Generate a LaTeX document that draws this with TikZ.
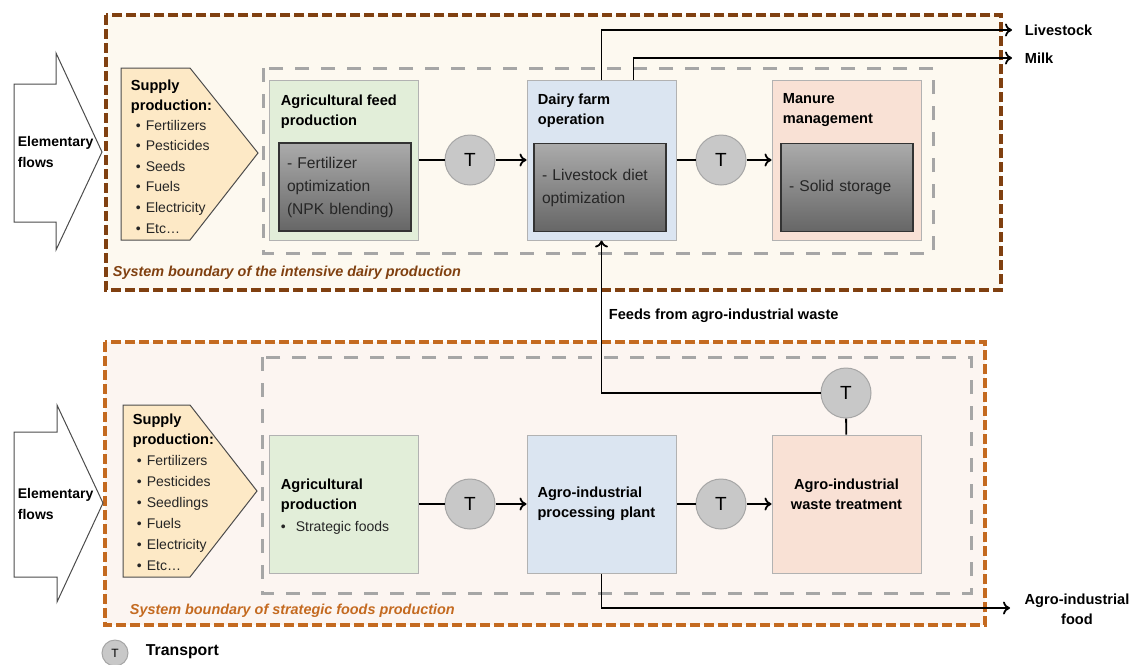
\documentclass[tikz,border=0pt]{standalone}
\usepackage{fontspec}
\setmainfont{Liberation Sans}
\usetikzlibrary{arrows.meta}
\definecolor{dairybrown}{RGB}{128,64,16}
\definecolor{dairycream}{RGB}{253,249,240}
\definecolor{foodorange}{RGB}{196,106,32}
\definecolor{foodpink}{RGB}{252,245,241}
\definecolor{lcagray}{RGB}{166,166,166}
\definecolor{supplyfill}{RGB}{253,233,198}
\definecolor{feedgreen}{RGB}{226,238,217}
\definecolor{dairyblue}{RGB}{219,229,241}
\definecolor{manurepink}{RGB}{249,225,213}
\definecolor{tgray}{RGB}{200,200,200}
\begin{document}
\begin{tikzpicture}[x=0.5pt,y=-0.5pt, line width=0.9pt, >={To[length=3.5pt,width=6.5pt]},
        every node/.style={font=\fontsize{7.3}{10}\selectfont\bfseries, inner sep=0pt},
        boundary/.style={dash pattern=on 5pt off 2pt, line width=1.6pt},
        lcabox/.style={draw=lcagray, dash pattern=on 7pt off 6pt, line width=1.5pt},
        procbox/.style={draw=gray!60, line width=0.5pt, minimum width=74.5pt, minimum height=80pt},
        optbox/.style={draw=black!80, line width=0.6pt, top color=black!33, bottom color=black!60, minimum width=66pt, minimum height=44pt,
            text width=58pt, inner xsep=4pt, align=left, text=black!85, font=\fontsize{7.8}{11.5}\selectfont},
        tcirc/.style={circle, fill=tgray, draw=gray!70, line width=0.5pt, minimum size=25pt, font=\fontsize{9.5}{11}\selectfont},
        title/.style={anchor=north west, align=left},
        item/.style={anchor=base west, text=black!85, font=\fontsize{7}{10}\selectfont},
        inflow/.style={draw=black!70, line width=0.5pt, fill=white},
        supply/.style={draw=black!70, line width=0.5pt, fill=supplyfill},
        flow/.style={->, black}]
    \useasboundingbox (0,0) rectangle (1138,664);
    % system boundaries
    \draw[boundary, draw=dairybrown, fill=dairycream] (106,15) rectangle (1001,290);
    \draw[boundary, draw=foodorange, fill=foodpink] (105,342) rectangle (985,625);
    \draw[lcabox] (263,68) rectangle (933,253);
    \draw[lcabox] (262,357) rectangle (971,593);
    \node[anchor=west, font=\fontsize{7.2}{9}\selectfont\bfseries\itshape, text=dairybrown] (dairybound) at (112,273) {System boundary of the intensive dairy production};
    \node[anchor=west, font=\fontsize{7.2}{9}\selectfont\bfseries\itshape, text=foodorange] (foodbound) at (129,611) {System boundary of strategic foods production};
    % elementary flows and supply production
    \draw[inflow] (14,84) -- (56,84) -- (56,53) -- (102,152) -- (56,250) -- (56,222) -- (14,222) -- cycle;
    \draw[inflow] (14,432) -- (57,432) -- (57,405) -- (103,503) -- (57,602) -- (57,577) -- (14,577) -- cycle;
    \node[anchor=west, align=left, font=\fontsize{7}{10.5}\selectfont\bfseries] (elemA) at (17,152) {Elementary\\flows};
    \node[anchor=west, align=left, font=\fontsize{7}{10.5}\selectfont\bfseries] (elemB) at (17,504) {Elementary\\flows};
    \draw[supply] (121,68) -- (190,68) -- (258,153) -- (190,240) -- (121,240) -- cycle;
    \draw[supply] (123,405) -- (190,405) -- (257,491) -- (190,577) -- (123,577) -- cycle;
    \node[title] (supA) at (130,79) {Supply\\production:};
    \node[title] (supB) at (132,413) {Supply\\production:};
    \foreach \x [count=\i] in {Fertilizers,Pesticides,Seeds,Fuels,Electricity,Etc\ldots}
        \node[item] (supA\i) at (135,109.4+20.6*\i) {\textbullet\hspace{2.5pt}\x};
    \foreach \x [count=\i] in {Fertilizers,Pesticides,Seedlings,Fuels,Electricity,Etc\ldots}
        \node[item] (supB\i) at (136,444+21*\i) {\textbullet\hspace{2.5pt}\x};
    % intensive dairy production
    \node[procbox, fill=feedgreen] (feed) at (344,160) {};
    \node[procbox, fill=dairyblue] (dairy) at (601.5,160) {};
    \node[procbox, fill=manurepink] (manure) at (846.5,160) {};
    \node[title] (feedtitle) at (280,94) {Agricultural feed\\production};
    \node[title] (dairytitle) at (537,93) {Dairy farm\\operation};
    \node[title] (manuretitle) at (782,93) {Manure\\management};
    \node[optbox] (feedopt) at (345,187) {- Fertilizer\\optimization\\(NPK blending)};
    \node[optbox] (dietopt) at (600,187.5) {- Livestock diet\\optimization};
    \node[optbox] (storage) at (847,187.5) {- Solid storage};
    \node[tcirc] (t1) at (470,160) {T};
    \node[tcirc] (t2) at (721,160) {T};
    % strategic foods production
    \node[procbox, minimum height=69pt, fill=feedgreen] (agprod) at (344,504) {};
    \node[procbox, minimum height=69pt, fill=dairyblue, text width=64pt, inner xsep=5pt, align=left] (plant) at (601.5,504) {Agro-industrial\\processing plant};
    \node[procbox, minimum height=69pt, fill=manurepink] (waste) at (846.5,504) {};
    \node[title] (agtitle) at (280,478) {Agricultural\\production};
    \node[item] (agitem) at (280,531) {\textbullet\hspace{5pt}Strategic foods};
    \node[align=center] (wastetitle) at (846.5,494) {Agro-industrial\\waste treatment};
    \node[tcirc] (t3) at (846,393) {T};
    \node[tcirc] (t4) at (470,504) {T};
    \node[tcirc] (t5) at (721,504) {T};
    % flows
    \foreach \a/\t/\b in {feed/t1/dairy, dairy/t2/manure, agprod/t4/plant, plant/t5/waste} {
        \draw (\a) -- (\t);
        \draw[flow] (\t) -- (\b);
    }
    \coordinate (lsout) at (1012,30);
    \coordinate (milkout) at (1012,58);
    \coordinate (foodout) at (1010,608);
    \draw[flow] (dairy.north) |- (lsout) node[anchor=west, xshift=6pt] (lslabel) {Livestock};
    \draw[flow] ([xshift=16pt]dairy.north) |- (milkout) node[anchor=west, xshift=6pt] (milklabel) {Milk};
    \draw (waste) -- (t3);
    \draw[flow] (t3) -| (dairy.south);
    \node[anchor=west] (feedslabel) at (608,316) {Feeds from agro-industrial waste};
    \draw[flow] (plant.south) |- (foodout);
    \node[align=center] (foodlabel) at (1077,609) {Agro-industrial\\food};
    % legend
    \node[tcirc, minimum size=13pt, font=\fontsize{6}{7}\selectfont] (tlegend) at (115,653) {T};
    \node[anchor=west, font=\fontsize{7.9}{9}\selectfont\bfseries] (tlegendtext) at (145,652) {Transport};
\end{tikzpicture}
\end{document}
